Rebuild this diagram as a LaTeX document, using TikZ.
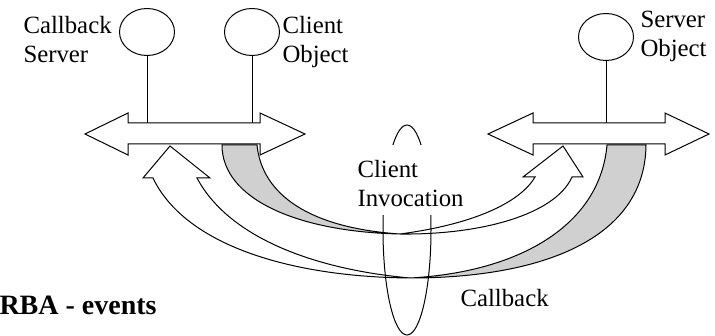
\documentclass[tikz,border=0pt]{standalone}
\usepackage{fontspec}
\setmainfont{Liberation Serif}
\usetikzlibrary{shapes.geometric}
\definecolor{ribbongray}{RGB}{208,208,208}
\begin{document}
\begin{tikzpicture}[x=1pt, y=-1pt, line width=1pt, line join=miter,
  objcircle/.style={draw, ellipse, minimum width=55pt, minimum height=47pt, inner sep=0pt},
  lbl/.style={font=\fontsize{24.8}{29.5}\selectfont, align=left, anchor=base west, inner sep=0pt},
  bus/.style={draw, fill=white},
  ribbonfront/.style={draw, fill=white},
  ribbonback/.style={draw, fill=ribbongray}]
\useasboundingbox (0,0) rectangle (715,336);

% the two ORB buses
\coordinate (busTop) at (0,123);
\draw[bus] (85,134) -- (128,113) -- (128,123) -- (260,123) -- (260,113) -- (305,134)
  -- (260,155) -- (260,144) -- (128,144) -- (128,155) -- cycle;
\draw[bus] (488,134) -- (533,113) -- (533,123) -- (665,123) -- (665,113) -- (709,134)
  -- (665,155) -- (665,144) -- (533,144) -- (533,155) -- cycle;

% objects attached to the buses
\node[objcircle] (cbs) at (147,32) {};
\node[objcircle] (clo) at (252,32) {};
\node[objcircle] (svo) at (606,37) {};
\draw (cbs.south) -- (cbs.south |- busTop);
\draw (clo.south) -- (clo.south |- busTop);
\draw (svo.south) -- (svo.south |- busTop);

% multi-line labels are placed by the baseline of their last line
\node[lbl] (cbsL) at (23,63) {Callback\\Server};
\node[lbl] (cloL) at (282,63) {Client\\Object};
\node[lbl] (svoL) at (640,57) {Server\\Object};

% client invocation ribbon: shaded tail, white front with head
\draw[ribbonback] (222,145) .. controls (222,200) and (300,232) .. (400,234)
  .. controls (310,228) and (262,195) .. (257,145) -- cycle;
\draw[ribbonfront] (400,234) .. controls (480,235) and (555,215) .. (572,177)
  -- (583,177) -- (563,146) -- (523,177) -- (535,177)
  .. controls (525,195) and (490,222) .. (400,234) -- cycle;

% callback ribbon
\draw[ribbonback] (646,145) .. controls (645,240) and (540,278) .. (410,278)
  .. controls (520,272) and (600,225) .. (607,145) -- cycle;
\draw[ribbonfront] (410,278) .. controls (290,277) and (185,245) .. (153,178)
  -- (143,178) -- (170,146) -- (210,178) -- (197,178)
  .. controls (230,240) and (320,270) .. (410,278) -- cycle;

% ring around both flows
\node[draw, ellipse, minimum width=48pt, minimum height=210pt, inner sep=0pt] (ring) at (407,230) {};

\node[lbl, fill=white, inner xsep=2pt, text height=62pt, text depth=8pt] (invL) at (355,207) {Client\\Invocation};
\node[lbl] (cbL) at (460,307) {Callback};
\node[lbl, font=\bfseries\fontsize{28}{33}\selectfont] (title) at (-1,315) {RBA - events};
\end{tikzpicture}
\end{document}
